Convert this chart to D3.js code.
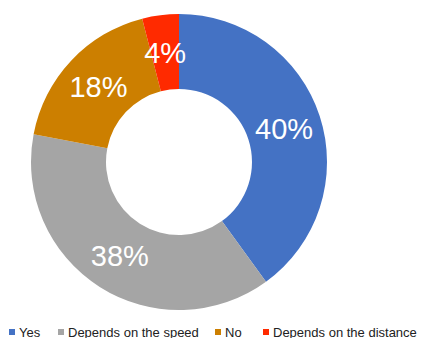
<!DOCTYPE html>
<html>
<head>
<meta charset="utf-8">
<script src="https://cdn.jsdelivr.net/npm/d3@7"></script>
<style>
  html, body { margin: 0; padding: 0; background: #fff; }
  svg { display: block; }
  text { font-family: "Liberation Sans", Arial, Helvetica, sans-serif; }
</style>
</head>
<body>
<svg id="chart" width="422" height="338"></svg>
<script>
// Survey answers and their shares (percent)
const categories = ["Yes", "Depends on the speed", "No", "Depends on the distance"];
const shares = [40, 38, 18, 4];
const colors = ["#4472C4", "#A5A5A5", "#CC7F00", "#FF2A00"];

const width = 422, height = 338;
const cx = 179, cy = 162;
const outerR = 148, innerR = 73;

const svg = d3.select("#chart");

const data = categories.map((c, i) => ({ category: c, value: shares[i] }));

const color = d3.scaleOrdinal().domain(categories).range(colors);

const pie = d3.pie()
  .value(d => d.value)
  .sort(null)
  .startAngle(0)
  .endAngle(2 * Math.PI);

const arc = d3.arc().innerRadius(innerR).outerRadius(outerR);

const g = svg.append("g").attr("transform", `translate(${cx},${cy})`);
const arcs = pie(data);

g.selectAll("path.slice")
  .data(arcs)
  .join("path")
  .attr("class", "slice")
  .attr("d", arc)
  .attr("fill", d => color(d.data.category));

// Percentage labels at each slice centroid
g.selectAll("text.pct")
  .data(arcs)
  .join("text")
  .attr("class", "pct")
  .attr("x", d => arc.centroid(d)[0])
  .attr("y", d => arc.centroid(d)[1] + 1)
  .attr("text-anchor", "middle")
  .attr("dominant-baseline", "central")
  .attr("fill", "#fff")
  .attr("font-size", 29)
  .text(d => d.data.value + "%");

// Legend along the bottom
const legendX = [9, 58, 215, 263];
const legend = svg.append("g").attr("transform", "translate(0,332)");
const items = legend.selectAll("g.item")
  .data(categories)
  .join("g")
  .attr("class", "item")
  .attr("transform", (d, i) => `translate(${legendX[i]},0)`);

items.append("rect")
  .attr("x", 0).attr("y", -3)
  .attr("width", 6).attr("height", 6)
  .attr("fill", d => color(d));

items.append("text")
  .attr("x", 10)
  .attr("y", 0.5)
  .attr("dominant-baseline", "central")
  .attr("font-size", 13)
  .attr("fill", "#222")
  .text(d => d);
</script>
</body>
</html>
